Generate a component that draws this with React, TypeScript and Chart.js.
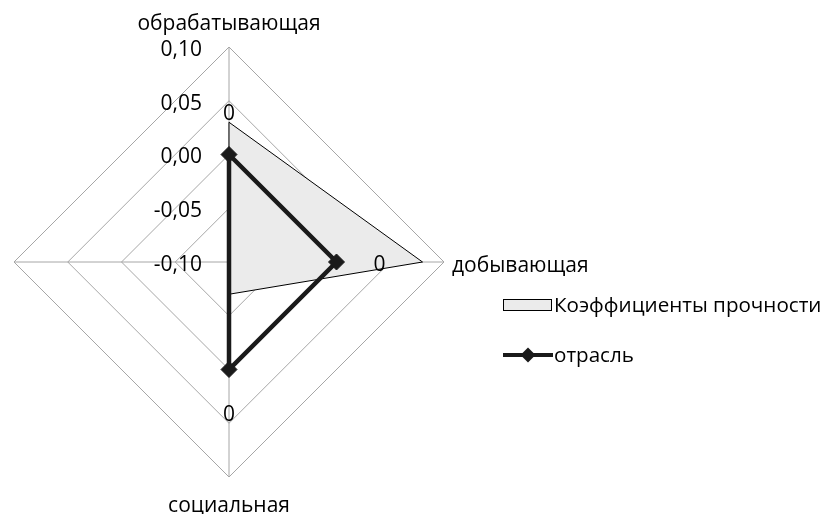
import React, { useEffect, useRef } from 'react';
import { Chart, registerables } from 'chart.js';

Chart.register(...registerables);

// ---- data ----
const categories = ['обрабатывающая', 'добывающая', 'социальная', ''];
const strengthValues = [0.03, 0.08, -0.07, -0.1];
const industryValues = [0.0, 0.0, 0.0, -0.1];
const industryMarkerShown = [true, true, true, false];
const strengthDataLabels = ['0', '0', '0', ''];
const seriesNames = ['Коэффициенты прочности', 'отрасль'];
const scaleMin = -0.1;
const scaleMax = 0.1;
const scaleStep = 0.05;
const dataLabelValue = 0.04;

// ---- styles ----
const FONT = '"Open Sans", "Noto Sans", sans-serif';
const FONT_SIZE = 21;
const LEGEND_FONT_SIZE = 20.6;
const TEXT = '#000000';
const GRID = '#a6a6a6';
const FILL = '#ebebeb';
const LINE = '#1a1a1a';

function fmt(v: number): string {
  const x = Math.abs(v) < 1e-9 ? 0 : v;
  return x.toFixed(2).replace('.', ',');
}

function diamond(ctx: CanvasRenderingContext2D, x: number, y: number, r: number) {
  ctx.beginPath();
  ctx.moveTo(x, y - r);
  ctx.lineTo(x + r, y);
  ctx.lineTo(x, y + r);
  ctx.lineTo(x - r, y);
  ctx.closePath();
  ctx.fill();
}

const overlayPlugin = {
  id: 'overlay',
  afterDraw(chart: any) {
    const ctx: CanvasRenderingContext2D = chart.ctx;
    const r = chart.scales.r;
    ctx.save();
    ctx.fillStyle = TEXT;
    ctx.font = `${FONT_SIZE}px ${FONT}`;

    // tick labels along the vertical axis
    ctx.textAlign = 'right';
    ctx.textBaseline = 'middle';
    r.ticks.forEach((t: any) => {
      const d = r.getDistanceFromCenterForValue(t.value);
      ctx.fillText(fmt(t.value), r.xCenter - 27, r.yCenter - d + 3);
    });

    // category labels
    categories.forEach((lab, i) => {
      if (!lab) return;
      const p = r.getPointPositionForValue(i, r.max);
      const cx = Math.cos(p.angle);
      const sy = Math.sin(p.angle);
      ctx.textBaseline = 'alphabetic';
      if (Math.abs(cx) < 0.5) {
        ctx.textAlign = 'center';
        if (sy < 0) ctx.fillText(lab, p.x, p.y - 17);
        else ctx.fillText(lab, p.x, p.y + 35);
      } else {
        ctx.textAlign = cx > 0 ? 'left' : 'right';
        ctx.fillText(lab, p.x + (cx > 0 ? 8 : -8), p.y + 10);
      }
    });

    // data labels of the filled series
    ctx.textAlign = 'center';
    ctx.textBaseline = 'middle';
    strengthDataLabels.forEach((s, i) => {
      if (!s) return;
      const p = r.getPointPositionForValue(i, dataLabelValue);
      ctx.fillText(s, p.x, p.y + 3);
    });

    // legend
    const ds0 = chart.data.datasets[0];
    const ds1 = chart.data.datasets[1];
    ctx.fillStyle = ds0.backgroundColor;
    ctx.fillRect(503.5, 299.5, 48, 11);
    ctx.strokeStyle = '#000';
    ctx.lineWidth = 1;
    ctx.strokeRect(503.5, 299.5, 48, 11);

    ctx.strokeStyle = ds1.borderColor;
    ctx.lineWidth = 4;
    ctx.beginPath();
    ctx.moveTo(503, 355);
    ctx.lineTo(553, 355);
    ctx.stroke();
    ctx.fillStyle = LINE;
    diamond(ctx, 528, 355, 7.5);

    ctx.fillStyle = TEXT;
    ctx.font = `${LEGEND_FONT_SIZE}px ${FONT}`;
    ctx.textAlign = 'left';
    ctx.textBaseline = 'middle';
    ctx.fillText(ds0.label, 554, 306);
    ctx.fillText(ds1.label, 554, 356);
    ctx.restore();
  },
};

export default function App() {
  const ref = useRef<HTMLCanvasElement | null>(null);

  useEffect(() => {
    if (!ref.current) return;
    const chart = new Chart(ref.current, {
      type: 'radar',
      data: {
        labels: categories,
        datasets: [
          {
            label: seriesNames[0],
            data: strengthValues,
            backgroundColor: FILL,
            borderColor: '#000000',
            borderWidth: 1,
            fill: 'start',
            pointRadius: 0,
            pointHoverRadius: 0,
            order: 2,
          },
          {
            label: seriesNames[1],
            data: industryValues,
            backgroundColor: LINE,
            borderColor: LINE,
            borderWidth: 4.5,
            fill: false,
            pointStyle: 'rectRot',
            pointRadius: industryMarkerShown.map((s) => (s ? 8 : 0)),
            pointHoverRadius: industryMarkerShown.map((s) => (s ? 8 : 0)),
            pointBackgroundColor: LINE,
            pointBorderColor: LINE,
            pointBorderWidth: industryMarkerShown.map((s) => (s ? 1 : 0)),
            order: 1,
          },
        ],
      },
      options: {
        responsive: false,
        animation: false,
        layout: { padding: { left: 14, top: 47, right: 380, bottom: 37 } },
        plugins: {
          legend: { display: false },
          tooltip: { enabled: false },
        },
        scales: {
          r: {
            min: scaleMin,
            max: scaleMax,
            ticks: { display: false, stepSize: scaleStep },
            pointLabels: { display: false },
            grid: { color: GRID, lineWidth: 1, circular: false },
            angleLines: { color: GRID, lineWidth: 1 },
          },
        },
      },
      plugins: [overlayPlugin],
    } as any);
    return () => chart.destroy();
  }, []);

  return (
    <div style={{ position: 'absolute', left: 0, top: 0, width: 824, height: 514, background: '#fff' }}>
      <canvas ref={ref} width={824} height={514} style={{ display: 'block' }} />
    </div>
  );
}
